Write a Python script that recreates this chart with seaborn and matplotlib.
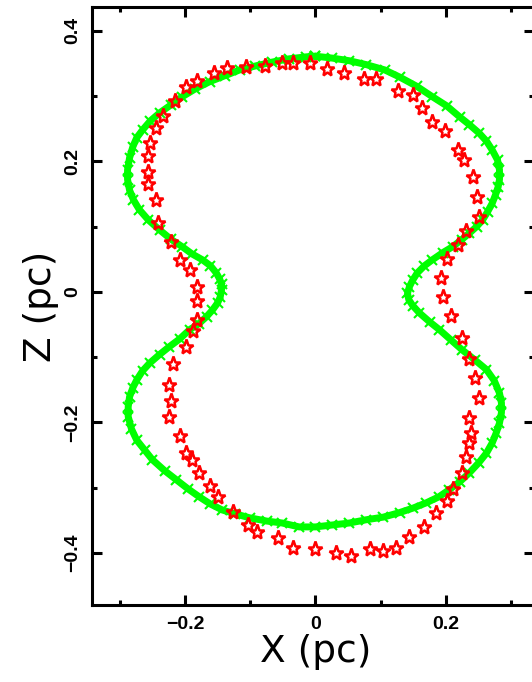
import matplotlib
matplotlib.use('Agg')
import matplotlib.pyplot as plt
import seaborn as sns
from matplotlib.ticker import MultipleLocator

# model shell (green crosses), closed loop X-Z in pc
model_x = [0.000, 0.026, 0.052, 0.078, 0.106, 0.129, 0.155, 0.179, 0.201, 0.221,
           0.236, 0.251, 0.262, 0.271, 0.279, 0.282, 0.282, 0.280, 0.276, 0.271,
           0.264, 0.256, 0.247, 0.236, 0.224, 0.210, 0.195, 0.179, 0.167, 0.156,
           0.149, 0.144, 0.141, 0.143, 0.149, 0.159, 0.175, 0.190, 0.208, 0.225,
           0.244, 0.262, 0.274, 0.282, 0.285, 0.285, 0.282, 0.277, 0.271, 0.262,
           0.250, 0.236, 0.221, 0.205, 0.189, 0.170, 0.150, 0.129, 0.104, 0.078,
           0.052, 0.026, 0.000, -0.025, -0.051, -0.075, -0.101, -0.123, -0.143, -0.161,
           -0.178, -0.195, -0.213, -0.231, -0.250, -0.262, -0.274, -0.282, -0.287, -0.287,
           -0.285, -0.280, -0.274, -0.265, -0.254, -0.239, -0.224, -0.208, -0.193, -0.179,
           -0.167, -0.158, -0.150, -0.146, -0.144, -0.144, -0.147, -0.152, -0.161, -0.173,
           -0.189, -0.204, -0.222, -0.239, -0.256, -0.270, -0.279, -0.285, -0.288, -0.288,
           -0.285, -0.280, -0.274, -0.265, -0.253, -0.239, -0.222, -0.204, -0.184, -0.162,
           -0.139, -0.116, -0.092, -0.066, -0.040, -0.014, 0.000]
model_z = [0.361, 0.358, 0.354, 0.348, 0.340, 0.329, 0.315, 0.299, 0.285, 0.268,
           0.256, 0.243, 0.231, 0.217, 0.202, 0.187, 0.172, 0.161, 0.149, 0.136,
           0.123, 0.110, 0.100, 0.090, 0.080, 0.069, 0.060, 0.049, 0.040, 0.029,
           0.018, 0.008, -0.002, -0.012, -0.021, -0.032, -0.046, -0.058, -0.074, -0.089,
           -0.104, -0.119, -0.136, -0.155, -0.170, -0.185, -0.201, -0.216, -0.231, -0.247,
           -0.262, -0.277, -0.291, -0.303, -0.314, -0.323, -0.331, -0.338, -0.345, -0.349,
           -0.354, -0.357, -0.360, -0.360, -0.354, -0.351, -0.346, -0.340, -0.334, -0.325,
           -0.314, -0.302, -0.288, -0.274, -0.257, -0.242, -0.227, -0.210, -0.191, -0.176,
           -0.161, -0.147, -0.135, -0.121, -0.109, -0.096, -0.084, -0.072, -0.058, -0.049,
           -0.038, -0.028, -0.017, -0.008, 0.003, 0.012, 0.020, 0.029, 0.040, 0.049,
           0.058, 0.069, 0.081, 0.095, 0.110, 0.126, 0.141, 0.156, 0.172, 0.187,
           0.205, 0.222, 0.236, 0.248, 0.262, 0.274, 0.286, 0.299, 0.311, 0.322,
           0.331, 0.340, 0.346, 0.352, 0.357, 0.360, 0.361]

# observed points (red open stars)
obs_x = [-0.008, 0.017, 0.044, 0.075, 0.093, 0.126, 0.149, 0.164, 0.179, 0.199,
         0.218, 0.228, 0.241, 0.247, 0.250, 0.231, 0.219, 0.201, 0.192, 0.195,
         0.208, 0.224, 0.236, 0.245, 0.251, 0.236, 0.239, 0.236, 0.230, 0.225,
         0.211, 0.202, 0.185, 0.167, 0.143, 0.124, 0.104, 0.083, 0.054, 0.031,
         0.000, -0.035, -0.057, -0.090, -0.103, -0.127, -0.150, -0.162, -0.179, -0.190,
         -0.198, -0.208, -0.224, -0.222, -0.225, -0.219, -0.198, -0.187, -0.181, -0.182,
         -0.182, -0.193, -0.207, -0.221, -0.241, -0.244, -0.257, -0.257, -0.257, -0.253,
         -0.244, -0.234, -0.216, -0.198, -0.182, -0.155, -0.136, -0.107, -0.077, -0.051,
         -0.034]
obs_z = [0.351, 0.342, 0.335, 0.326, 0.326, 0.308, 0.302, 0.282, 0.260, 0.247,
         0.217, 0.202, 0.176, 0.145, 0.115, 0.093, 0.072, 0.051, 0.021, -0.008,
         -0.037, -0.070, -0.103, -0.132, -0.162, -0.193, -0.216, -0.231, -0.253, -0.277,
         -0.302, -0.320, -0.338, -0.360, -0.375, -0.392, -0.397, -0.394, -0.404, -0.400,
         -0.394, -0.392, -0.377, -0.368, -0.357, -0.337, -0.314, -0.297, -0.277, -0.257,
         -0.247, -0.221, -0.191, -0.167, -0.142, -0.110, -0.084, -0.060, -0.043, -0.014,
         0.008, 0.034, 0.049, 0.077, 0.106, 0.141, 0.165, 0.184, 0.208, 0.228,
         0.251, 0.270, 0.292, 0.314, 0.323, 0.335, 0.343, 0.345, 0.346, 0.351,
         0.351]

x_ticks = [-0.2, 0.0, 0.2]
x_labels = ['\u22120.2', '0', '0.2']
y_ticks = [-0.4, -0.2, 0.0, 0.2, 0.4]
y_labels = ['\u22120.4', '\u22120.2', '0', '0.2', '0.4']

sns.set_style('ticks')
plt.rcParams['font.family'] = ['Liberation Sans', 'DejaVu Sans']
plt.rcParams['text.color'] = 'black'
plt.rcParams['axes.labelcolor'] = 'black'
plt.rcParams['xtick.color'] = 'black'
plt.rcParams['ytick.color'] = 'black'
plt.rcParams['xtick.direction'] = 'in'
plt.rcParams['ytick.direction'] = 'in'

fig = plt.figure(figsize=(5.32, 6.82), dpi=100)
ax = fig.add_axes([0.17293, 0.11290, 0.83083, 0.87683])

# green model shell drawn as a thick band of crosses
sns.lineplot(x=model_x, y=model_z, sort=False, estimator=None, ax=ax,
             color='#00ff00', lw=5, marker='x', ms=7, mew=1.5, mec='#00ff00')
sns.lineplot(x=obs_x, y=obs_z, sort=False, estimator=None, ax=ax,
             color='red', ls='', marker='*', ms=11, mfc='none', mec='red', mew=1.8)

ax.set_xlim(-0.3425, 0.3349)
ax.set_ylim(-0.4796, 0.4363)

ax.set_xticks(x_ticks)
ax.set_xticklabels(x_labels)
ax.set_yticks(y_ticks)
ax.set_yticklabels(y_labels, rotation=90, va='center')
ax.xaxis.set_minor_locator(MultipleLocator(0.1))
ax.yaxis.set_minor_locator(MultipleLocator(0.1))
ax.xaxis.set_ticks_position('both')
ax.yaxis.set_ticks_position('both')

ax.tick_params(which='both', direction='in', width=2.2, color='black', labelcolor='black',
               labelbottom=True, labelleft=True, labeltop=False, labelright=False)
ax.tick_params(which='major', length=7.5, pad=8, labelsize=14)
ax.tick_params(which='minor', length=3.5)
for lab in ax.get_xticklabels() + ax.get_yticklabels():
    lab.set_fontweight('bold')

for sp in ax.spines.values():
    sp.set_linewidth(2.2)
    sp.set_color('black')

ax.set_xlabel('X (pc)', fontsize=27, family='DejaVu Sans', color='black')
ax.set_ylabel('Z (pc)', fontsize=27, family='DejaVu Sans', color='black')
ax.xaxis.set_label_coords(0.505, -0.048)
ax.yaxis.set_label_coords(-0.075, 0.5)

fig.savefig('out.png', dpi=100)
